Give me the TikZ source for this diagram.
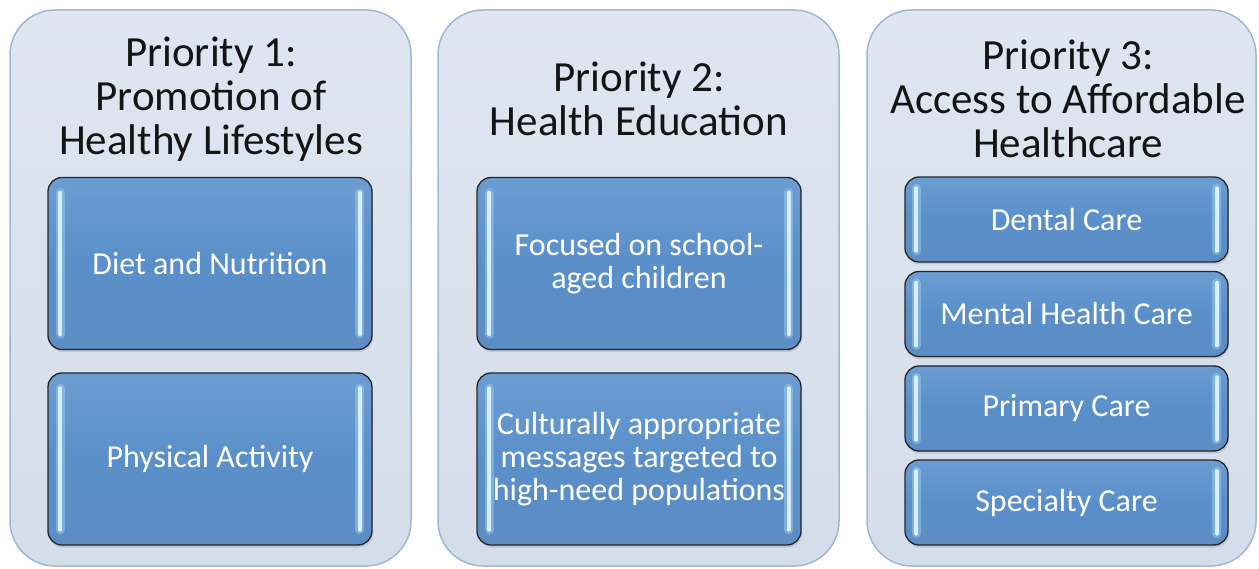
\documentclass[tikz,border=0pt]{standalone}
\usepackage{fontspec}
\setmainfont{Carlito}
\usetikzlibrary{shadows}
\definecolor{paneltop}{HTML}{DFE6F1}
\definecolor{panelbot}{HTML}{D4DDEA}
\definecolor{panelline}{HTML}{9FB7D6}
\definecolor{itemtop}{HTML}{6C9DD2}
\definecolor{itemmid}{HTML}{5A8FC9}
\definecolor{itembot}{HTML}{5C8DC4}
\definecolor{glow}{HTML}{A9D4F4}
\definecolor{strip}{HTML}{D6F0FF}
\begin{document}
\begin{tikzpicture}[x=1pt,y=-1pt,
  panel/.style={draw=panelline, line width=1.5pt, rounded corners=45pt,
    top color=paneltop, bottom color=panelbot, minimum height=556pt, inner sep=0pt},
  title/.style={font=\fontsize{43}{44}\selectfont, text=black!92, align=center},
  item/.style={draw=black!85, line width=1.3pt, rounded corners=14pt,
    top color=itemtop, bottom color=itembot, middle color=itemmid,
    text=white, font=\fontsize{32}{33}\selectfont, align=center, inner sep=0pt,
    drop shadow={opacity=0.25, shadow xshift=1pt, shadow yshift=-2.5pt}},
  bigitem/.style={item, minimum width=324pt, minimum height=172pt},
  smallitem/.style={item, minimum width=323pt, minimum height=85pt},
  glowline/.style={line width=9pt, glow, opacity=0.45, line cap=round},
  stripline/.style={line width=4pt, strip, line cap=round}]
\useasboundingbox (0,0) rectangle (1259,569);

% panels
\node[panel, minimum width=401pt] (p1) at (210.5,288) {};
\node[panel, minimum width=401pt] (p2) at (638.5,288) {};
\node[panel, minimum width=389pt] (p3) at (1061.5,288) {};

% titles
\node[title] (t1) at (211,99) {Priority 1:\\Promotion of\\Healthy Lifestyles};
\node[title] (t2) at (639,99) {Priority 2:\\Health Education};
\node[title] (t3) at (1068,99) {Priority 3:\\Access to Affordable\\Healthcare};

% items
\node[bigitem] (a1) at (210,263.5) {Diet and Nutrition};
\node[bigitem] (a2) at (210,459) {Physical Activity};
\node[bigitem] (b1) at (639,263.5) {Focused on school-\\aged children};
\node[bigitem] (b2) at (639,459) {Culturally appropriate\\messages targeted to\\high-need populations};
\node[smallitem] (c1) at (1066.5,219.5) {Dental Care};
\node[smallitem] (c2) at (1066.5,314) {Mental Health Care};
\node[smallitem] (c3) at (1066.5,408.5) {Primary Care};
\node[smallitem] (c4) at (1066.5,502.5) {Specialty Care};

% highlight strips
\foreach \n in {a1,a2,b1,b2}{
  \draw[glowline] ([xshift=13pt,yshift=-16pt]\n.north west) -- ([xshift=13pt,yshift=16pt]\n.south west);
  \draw[glowline] ([xshift=-13pt,yshift=-16pt]\n.north east) -- ([xshift=-13pt,yshift=16pt]\n.south east);
  \draw[stripline] ([xshift=13pt,yshift=-16pt]\n.north west) -- ([xshift=13pt,yshift=16pt]\n.south west);
  \draw[stripline] ([xshift=-13pt,yshift=-16pt]\n.north east) -- ([xshift=-13pt,yshift=16pt]\n.south east);
}
\foreach \n in {c1,c2,c3,c4}{
  \draw[glowline] ([xshift=12pt,yshift=-12pt]\n.north west) -- ([xshift=12pt,yshift=12pt]\n.south west);
  \draw[glowline] ([xshift=-12pt,yshift=-12pt]\n.north east) -- ([xshift=-12pt,yshift=12pt]\n.south east);
  \draw[stripline] ([xshift=12pt,yshift=-12pt]\n.north west) -- ([xshift=12pt,yshift=12pt]\n.south west);
  \draw[stripline] ([xshift=-12pt,yshift=-12pt]\n.north east) -- ([xshift=-12pt,yshift=12pt]\n.south east);
}
\end{tikzpicture}
\end{document}
